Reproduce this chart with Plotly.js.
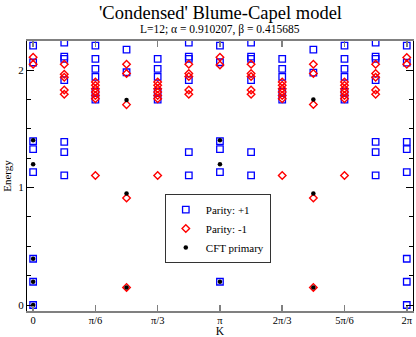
<!DOCTYPE html>
<html>
<head>
<meta charset="utf-8">
<script src="https://cdn.plot.ly/plotly-3.0.1.min.js"></script>
<style>
  html, body { margin: 0; padding: 0; background: #fff; }
  #chart { width: 416px; height: 337px; }
</style>
</head>
<body>
<div id="chart"></div>
<script>
// momentum index k, K = 2*pi*k/12
var L = 12;

// Parity +1 levels
var plusK = [0, 0, 0, 0, 0, 0, 0, 0,
  1, 1, 1, 1, 1, 1, 1,
  2, 2, 2, 2, 2, 2,
  3, 3,
  4, 4, 4, 4, 4,
  5, 5, 5, 5, 5, 5,
  6, 6, 6, 6, 6, 6,
  7, 7, 7, 7, 7, 7,
  8, 8, 8, 8, 8,
  9, 9,
  10, 10, 10, 10, 10, 10,
  11, 11, 11, 11, 11, 11, 11,
  12, 12, 12, 12, 12, 12, 12, 12];
var plusE = [0, 0.198, 0.394, 1.132, 1.328, 1.396, 2.066, 2.21,
  1.104, 1.39, 1.302, 1.915, 2.096, 2.116, 2.235,
  1.75, 1.815, 1.943, 2.011, 2.096, 2.21,
  1.983, 2.176,
  1.75, 1.815, 1.943, 2.011, 2.096,
  1.104, 1.302, 1.915, 2.096, 2.116, 2.235,
  0.198, 1.132, 1.328, 1.396, 2.068, 2.21,
  1.104, 1.302, 1.915, 2.096, 2.116, 2.235,
  1.75, 1.815, 1.943, 2.011, 2.096,
  1.98, 2.176,
  1.75, 1.815, 1.943, 2.011, 2.096, 2.21,
  1.104, 1.39, 1.302, 1.915, 2.096, 2.116, 2.235,
  0, 0.198, 0.394, 1.132, 1.328, 1.39, 2.064, 2.21];

// Parity -1 levels
var minusK = [0, 0,
  1, 1, 1, 1, 1,
  2, 2, 2, 2, 2, 2, 2,
  3, 3, 3, 3, 3,
  4, 4, 4, 4, 4, 4, 4,
  5, 5, 5, 5, 5,
  6, 6,
  7, 7, 7, 7, 7,
  8, 8, 8, 8, 8, 8, 8,
  9, 9, 9, 9, 9,
  10, 10, 10, 10, 10, 10, 10,
  11, 11, 11, 11, 11,
  12, 12];
var minusE = [2.051, 2.11,
  1.796, 1.832, 1.94, 1.965, 2.051,
  1.104, 1.757, 1.785, 1.815, 1.843, 1.872, 1.9,
  0.15, 0.911, 1.707, 1.972, 2.051,
  1.104, 1.757, 1.785, 1.815, 1.843, 1.872, 1.9,
  1.796, 1.832, 1.946, 1.972, 2.051,
  2.045, 2.111,
  1.796, 1.832, 1.946, 1.972, 2.051,
  1.104, 1.757, 1.785, 1.815, 1.843, 1.872, 1.9,
  0.15, 0.911, 1.708, 1.972, 2.051,
  1.104, 1.757, 1.785, 1.815, 1.843, 1.872, 1.9,
  1.796, 1.832, 1.94, 1.972, 2.051,
  2.051, 2.108];

// CFT primaries
var cftK = [0, 0, 0, 0, 0, 3, 3, 3, 6, 6, 6, 9, 9, 9];
var cftE = [0, 0.198, 0.394, 1.2, 1.404, 0.15, 0.95, 1.747, 0.198, 1.2, 1.404, 0.15, 0.95, 1.75];

var tickIdx = [0, 2, 4, 6, 8, 10, 12];
var tickText = ['0', 'π/6', 'π/3', 'π', '2π/3', '5π/6', '2π'];

function toK(arr) {
  return arr.map(function (k) { return 2 * Math.PI * k / L; });
}

var serif = 'Liberation Serif, Times New Roman, serif';

var tracePlus = {
  x: toK(plusK), y: plusE,
  type: 'scatter', mode: 'markers', name: 'Parity: +1',
  marker: { symbol: 'square-open', size: 6.5, color: '#0000ff', line: { width: 1.3 } }
};
var traceMinus = {
  x: toK(minusK), y: minusE,
  type: 'scatter', mode: 'markers', name: 'Parity: -1',
  marker: { symbol: 'diamond-open', size: 5.8, color: '#ff0000', line: { width: 1.4 } }
};
var traceCft = {
  x: toK(cftK), y: cftE,
  type: 'scatter', mode: 'markers', name: 'CFT primary',
  marker: { symbol: 'circle', size: 4.5, color: '#000000' }
};

var layout = {
  width: 416, height: 337,
  margin: { l: 27, r: 3, t: 41, b: 26 },
  paper_bgcolor: '#fff', plot_bgcolor: '#fff',
  font: { family: serif, size: 11, color: '#000' },
  showlegend: true,
  legend: {
    x: 0.357, y: 0.433, xanchor: 'left', yanchor: 'top',
    bgcolor: '#fff', bordercolor: '#333', borderwidth: 1,
    font: { family: serif, size: 11 },
    tracegroupgap: 0, itemwidth: 30
  },
  xaxis: {
    range: [-0.103, 6.388],
    tickvals: toK(tickIdx), ticktext: tickText,
    ticks: 'inside', ticklen: 6, tickcolor: '#808080', tickwidth: 1.5,
    showline: true, linecolor: '#808080', linewidth: 2, mirror: 'ticks',
    showgrid: false, zeroline: false,
    ticklabelstandoff: -2,
    tickfont: { family: serif, size: 10.5 },
    title: { text: 'K', font: { family: serif, size: 11.5 }, standoff: 9 }
  },
  yaxis: {
    range: [-0.051, 2.249],
    tickvals: [0, 1, 2],
    ticks: 'inside', ticklen: 7, tickcolor: '#000', tickwidth: 1,
    minor: { dtick: 0.25, ticks: 'inside', ticklen: 4, tickcolor: '#000', showgrid: false },
    showline: true, linecolor: '#000', linewidth: 1, mirror: 'ticks',
    showgrid: false, zeroline: false,
    tickfont: { family: serif, size: 11 },
    title: { text: 'Energy', font: { family: serif, size: 11 }, standoff: 4 }
  },
  annotations: [
    { text: "'Condensed' Blume-Capel model", xref: 'paper', yref: 'paper',
      x: 0.5, y: 1.105, xanchor: 'center', yanchor: 'middle', showarrow: false,
      font: { family: serif, size: 18.5 } },
    { text: 'L=12; α = 0.910207, β = 0.415685', xref: 'paper', yref: 'paper',
      x: 0.5, y: 1.043, xanchor: 'center', yanchor: 'middle', showarrow: false,
      font: { family: serif, size: 11.5 } }
  ]
};

Plotly.newPlot('chart', [tracePlus, traceMinus, traceCft], layout, { displayModeBar: false, staticPlot: true });
</script>
</body>
</html>
